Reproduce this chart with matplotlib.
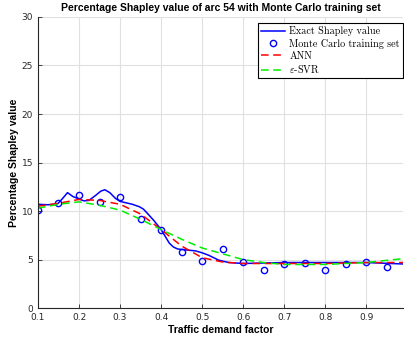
import matplotlib.pyplot as plt
import numpy as np

# Monte Carlo training set
mc_x = [0.1, 0.15, 0.2, 0.25, 0.3, 0.35, 0.4, 0.45, 0.5, 0.55,
        0.6, 0.65, 0.7, 0.75, 0.8, 0.85, 0.9, 0.95]
mc_y = [10.1, 10.8, 11.7, 10.9, 11.4, 9.2, 8.1, 5.8, 4.9, 6.05,
        4.8, 3.9, 4.6, 4.7, 3.95, 4.5, 4.8, 4.25]

# exact Shapley value (blue line)
exact_x = [0.1, 0.125, 0.148, 0.16, 0.172, 0.185, 0.2, 0.212, 0.224, 0.24,
           0.253, 0.263, 0.275, 0.289, 0.3, 0.315, 0.33, 0.347, 0.357, 0.367,
           0.383, 0.4, 0.41, 0.42, 0.43, 0.44, 0.46, 0.484, 0.5, 0.516,
           0.54, 0.565, 0.6, 0.7, 0.8, 0.9, 0.99]
exact_y = [10.7, 10.65, 10.75, 11.3, 11.9, 11.5, 11.25, 11.05, 11.1, 11.6,
           12.05, 12.2, 11.9, 11.3, 11.0, 10.85, 10.7, 10.45, 10.2, 9.75,
           9.0, 8.1, 7.4, 6.7, 6.3, 6.1, 6.0, 5.9, 5.7, 5.45,
           4.95, 4.7, 4.6, 4.7, 4.7, 4.7, 4.55]

# ANN prediction (red dashed)
ann_x = [0.1, 0.15, 0.2, 0.25, 0.3, 0.35, 0.4, 0.45, 0.5, 0.55,
         0.6, 0.7, 0.8, 0.9, 0.99]
ann_y = [10.5, 10.8, 11.2, 11.1, 10.7, 9.7, 8.1, 6.4, 5.2, 4.75,
         4.6, 4.6, 4.6, 4.7, 4.7]

# epsilon-SVR prediction (green dashed)
svr_x = [0.1, 0.15, 0.2, 0.25, 0.3, 0.35, 0.4, 0.45, 0.5, 0.55,
         0.6, 0.65, 0.7, 0.8, 0.9, 0.99]
svr_y = [10.3, 10.7, 10.95, 10.6, 10.1, 9.15, 8.1, 7.1, 6.2, 5.6,
         5.0, 4.7, 4.5, 4.5, 4.7, 5.1]

plt.rcParams['mathtext.fontset'] = 'cm'

fig = plt.figure(figsize=(4.04, 3.39), dpi=100)
ax = fig.add_axes([0.094, 0.091, 0.904, 0.859])

ax.plot(exact_x, exact_y, color='#0000ff', lw=1.1, label='Exact Shapley value')
ax.plot(mc_x, mc_y, 'o', mfc='none', mec='#0000ff', ms=4.5, mew=1.0,
        label='Monte Carlo training set')
ax.plot(ann_x, ann_y, '--', color='#ff0000', lw=1.1, dashes=(5, 3), label='ANN')
ax.plot(svr_x, svr_y, '--', color='#00ee00', lw=1.1, dashes=(5, 3),
        label=r'$\varepsilon$-SVR')

ax.set_xlim(0.1, 0.99)
ax.set_ylim(0, 30)
ax.set_xticks(np.arange(0.1, 0.95, 0.1))
ax.set_xticklabels(['0.1', '0.2', '0.3', '0.4', '0.5', '0.6', '0.7', '0.8', '0.9'])
ax.set_yticks(np.arange(0, 31, 5))
ax.grid(True, color='#e0e0e0', lw=0.8)
ax.set_axisbelow(True)
for s in ['top', 'right']:
    ax.spines[s].set_visible(False)
for s in ['left', 'bottom']:
    ax.spines[s].set_color('#262626')
    ax.spines[s].set_linewidth(0.8)
ax.tick_params(direction='in', length=3, labelsize=6.5, colors='#262626', width=0.6)

ax.set_title('Percentage Shapley value of arc 54 with Monte Carlo training set',
             fontsize=7.5, fontweight='bold', family='Liberation Sans', pad=4)
ax.set_xlabel('Traffic demand factor', fontsize=7.5, fontweight='bold',
              family='Liberation Sans', labelpad=2)
ax.set_ylabel('Percentage Shapley value', fontsize=7.5, fontweight='bold',
              family='Liberation Sans', labelpad=2)

leg = ax.legend(loc='upper right', bbox_to_anchor=(0.999, 0.979),
                prop={'family': 'cmr10', 'size': 7.3},
                fancybox=False, edgecolor='black', framealpha=1,
                handlelength=2.4, handletextpad=0.4, borderpad=0.3,
                labelspacing=0.25, borderaxespad=0)
leg.get_frame().set_linewidth(0.8)

fig.savefig('out.png', dpi=100)
